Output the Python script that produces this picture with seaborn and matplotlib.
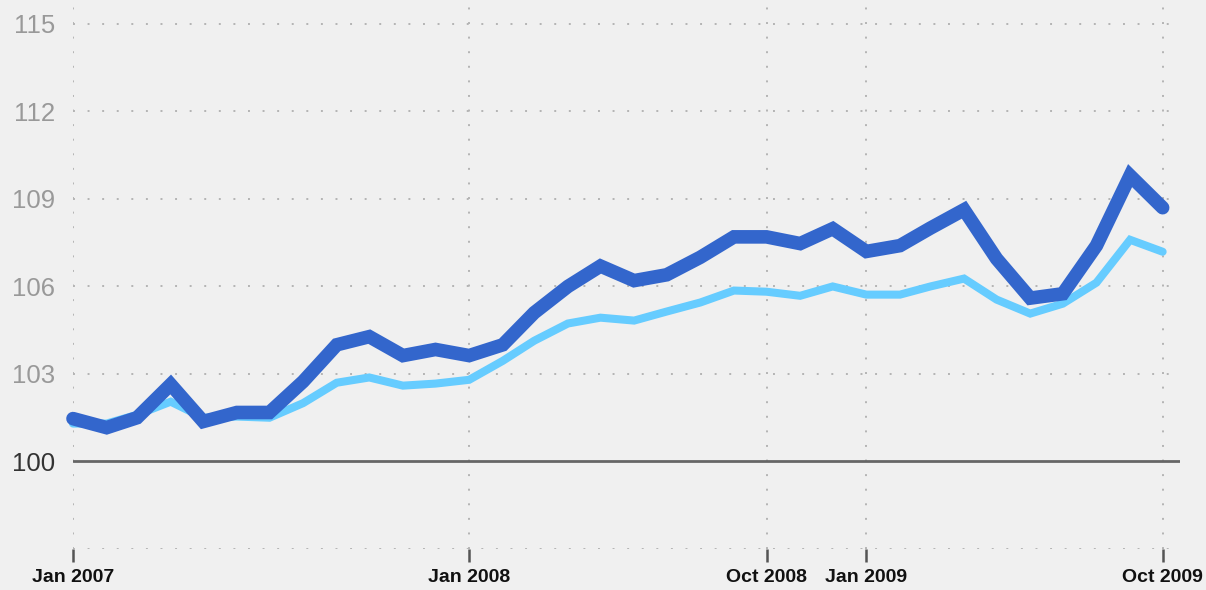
import pandas as pd
import numpy as np
import matplotlib
matplotlib.use("Agg")
import matplotlib.pyplot as plt
import seaborn as sns

# monthly values, Jan 2007 .. Oct 2009
months = pd.date_range("2007-01-01", "2009-10-01", freq="MS")

series_dark = [101.47, 101.16, 101.5, 102.64, 101.37, 101.68, 101.68, 102.74,
               104.0, 104.28, 103.63, 103.84, 103.63, 104.0, 105.1, 106.0,
               106.7, 106.2, 106.4, 107.0, 107.7, 107.7, 107.47, 107.98,
               107.2, 107.4, 108.0, 108.63, 106.95, 105.6, 105.75, 107.4,
               109.8, 108.7]

series_light = [101.3, 101.3, 101.6, 102.05, 101.5, 101.54, 101.5, 102.0,
                102.7, 102.88, 102.6, 102.67, 102.8, 103.45, 104.14, 104.73,
                104.93, 104.83, 105.14, 105.45, 105.86, 105.82, 105.68, 106.0,
                105.72, 105.72, 106.0, 106.27, 105.55, 105.07, 105.41, 106.13,
                107.6, 107.19]

ytick_vals = [100, 103, 106, 109, 112, 115]
xtick_dates = ["2007-01-01", "2008-01-01", "2008-10-01", "2009-01-01", "2009-10-01"]
xtick_labels = ["Jan 2007", "Jan 2008", "Oct 2008", "Jan 2009", "Oct 2009"]

df = pd.concat([
    pd.DataFrame({"date": months, "value": series_dark, "series": "dark"}),
    pd.DataFrame({"date": months, "value": series_light, "series": "light"}),
])

sns.set_theme(style="white")
plt.rcParams["font.family"] = ["Liberation Sans", "DejaVu Sans"]

bg = "#f0f0f0"
fig = plt.figure(figsize=(12.06, 5.90), dpi=100, facecolor=bg)
ax = fig.add_axes([73 / 1206, 41 / 590, (1180 - 73) / 1206, 549 / 590])
ax.set_facecolor(bg)

dots = (0, (1, 6.5))
grid_col = "#b4b4b4"
for v in ytick_vals[1:] + [97]:
    ax.axhline(v, color=grid_col, lw=1.4, ls=dots, zorder=1)
for d in xtick_dates:
    ax.axvline(pd.Timestamp(d), color=grid_col, lw=1.4, ls=dots, zorder=1)
ax.axhline(100, color="#666666", lw=2.0, zorder=2)

sns.lineplot(data=df, x="date", y="value", hue="series", size="series",
             palette={"dark": "#3366cc", "light": "#66ccff"},
             sizes={"dark": 9.8, "light": 5.8}, hue_order=["light", "dark"],
             legend=False, ax=ax, zorder=3)
for ln in ax.lines[-2:]:
    ln.set_solid_capstyle("round")
    ln.set_solid_joinstyle("miter")
    ln.set_clip_on(False)

ax.set_xlim(pd.Timestamp("2007-01-01"), pd.Timestamp("2009-10-17"))
ax.set_ylim(97, 115.82)

ax.set_yticks(ytick_vals)
ax.set_yticklabels([str(v) for v in ytick_vals], fontsize=18.5)
for lab, v in zip(ax.get_yticklabels(), ytick_vals):
    lab.set_color("#333333" if v == 100 else "#999999")
ax.tick_params(axis="y", length=0, pad=13)

ax.set_xticks([pd.Timestamp(d) for d in xtick_dates])
ax.set_xticklabels(xtick_labels, fontsize=14, fontweight="bold", color="#111111")
ax.tick_params(axis="x", direction="out", length=9.5, width=1.8,
               color="#555555", pad=5, bottom=True)

ax.set_xlabel("")
ax.set_ylabel("")
for s in ax.spines.values():
    s.set_visible(False)

fig.savefig("out.png", dpi=100, facecolor=bg)
